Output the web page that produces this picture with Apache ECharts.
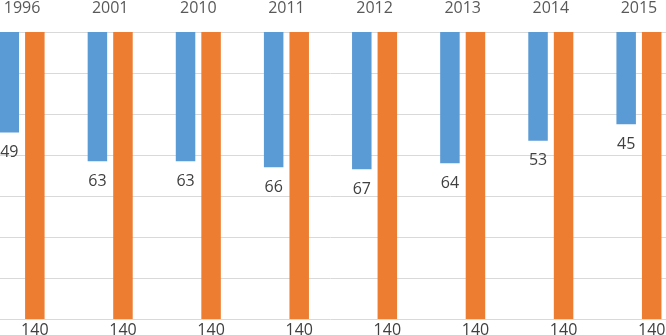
<!DOCTYPE html>
<html>
<head>
<meta charset="utf-8">
<script src="https://cdn.jsdelivr.net/npm/echarts@6/dist/echarts.min.js"></script>
<style>html,body{margin:0;padding:0;background:#fff;overflow:hidden;width:666px;height:335px;}#c{position:absolute;left:-22px;top:0;width:705px;height:335px;}</style>
</head>
<body>
<div id="c"></div>
<script>
var categories = ['1996', '2001', '2010', '2011', '2012', '2013', '2014', '2015'];
var blueValues = [49, 63, 63, 66, 67, 64, 53, 45];
var orangeValues = [140, 140, 140, 140, 140, 140, 140, 140];
var yTicks = { min: 0, max: 140, interval: 20 };

var chart = echarts.init(document.getElementById('c'), null, { renderer: 'canvas' });
var fontFam = '"Open Sans", "Liberation Sans", sans-serif';
chart.setOption({
  animation: false,
  backgroundColor: '#ffffff',
  grid: { left: 0, right: 0, top: 31, bottom: 16, containLabel: false },
  xAxis: {
    type: 'category',
    data: categories,
    position: 'top',
    axisLine: { show: true, lineStyle: { color: '#d9d9d9', width: 1 } },
    axisTick: { show: false },
    axisLabel: { color: '#595959', fontSize: 16, fontFamily: fontFam, margin: 16 },
    splitLine: { show: false }
  },
  yAxis: {
    type: 'value',
    inverse: true,
    min: yTicks.min,
    max: yTicks.max,
    interval: yTicks.interval,
    axisLine: { show: false },
    axisTick: { show: false },
    axisLabel: { show: false },
    splitLine: { show: true, lineStyle: { color: '#d9d9d9', width: 1 } }
  },
  series: [
    {
      type: 'bar',
      data: blueValues,
      barWidth: 19.5,
      barGap: '31%',
      itemStyle: { color: '#5B9BD5' },
      label: { show: true, position: 'bottom', distance: 12, color: '#404040', fontSize: 16, fontFamily: fontFam }
    },
    {
      type: 'bar',
      data: orangeValues,
      barWidth: 19.5,
      barGap: '31%',
      itemStyle: { color: '#ED7D31' },
      label: { show: true, position: 'bottom', distance: 3, color: '#404040', fontSize: 16, fontFamily: fontFam }
    }
  ]
});
</script>
</body>
</html>
